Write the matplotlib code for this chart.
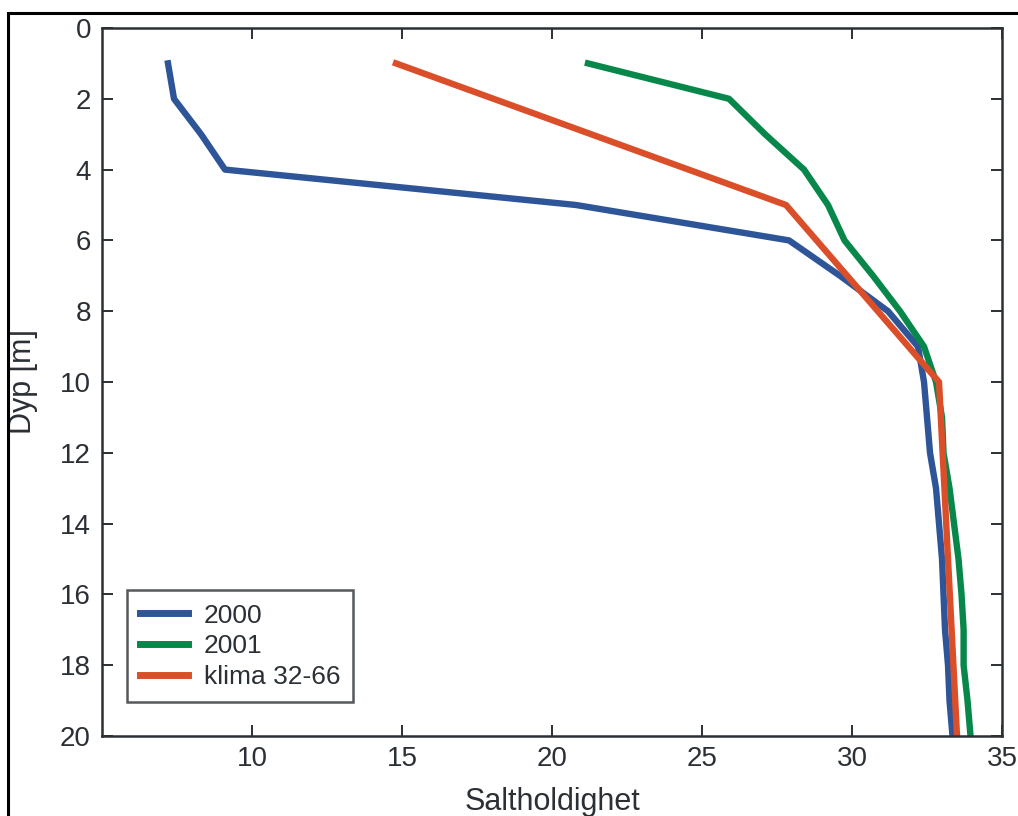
import numpy as np
from matplotlib import pyplot as plt
from matplotlib.patches import Rectangle

# Salinitetsprofiler
dyp = [1, 2, 3, 4, 5, 6, 7, 8, 9, 10, 11, 12, 13, 14, 15, 16, 17, 18, 19, 20]
salt_2000 = [7.2, 7.4, 8.3, 9.1, 20.8, 27.9, 29.6, 31.2, 32.2, 32.4, 32.5, 32.6,
             32.8, 32.9, 33.0, 33.05, 33.1, 33.2, 33.25, 33.35]
salt_2001 = [21.2, 25.9, 27.1, 28.4, 29.2, 29.75, 30.7, 31.6, 32.4, 32.8, 33.0, 33.05,
             33.25, 33.4, 33.55, 33.65, 33.72, 33.72, 33.85, 33.95]
dyp_klima = [1, 5, 10, 20]
salt_klima = [14.8, 27.8, 32.9, 33.5]

labels = ["2000", "2001", "klima 32-66"]
colors = ["#2e5597", "#07884a", "#da4f2a"]
x_ticks = [10, 15, 20, 25, 30, 35]
y_ticks = np.arange(0, 21, 2)

plt.rcParams["font.family"] = ["Liberation Sans", "DejaVu Sans"]
dark = "#2b3036"

fig = plt.figure(figsize=(10.18, 8.16), dpi=100)
ax = fig.add_axes([0.1002, 0.098, 0.8841, 0.8677])

# ramme rundt hele figuren
fig.patches.append(Rectangle((8 / 1018, -0.1), 1.2, 1 - 13 / 816 + 0.1,
                             transform=fig.transFigure, fill=False,
                             edgecolor="black", linewidth=2.2))

ax.plot(salt_2000, dyp, color=colors[0], linewidth=4.6, label=labels[0])
ax.plot(salt_2001, dyp, color=colors[1], linewidth=4.6, label=labels[1])
ax.plot(salt_klima, dyp_klima, color=colors[2], linewidth=4.6, label=labels[2])

ax.set_xlim(5, 35)
ax.set_ylim(20, 0)
ax.set_xticks(x_ticks)
ax.set_yticks(y_ticks)
ax.tick_params(direction="in", length=8, width=1.4, color=dark, labelcolor=dark,
               labelsize=20, top=True, right=True, pad=7)
ax.tick_params(axis="y", pad=8)
for sp in ax.spines.values():
    sp.set_color(dark)
    sp.set_linewidth(1.8)

ax.set_xlabel("Saltholdighet", fontsize=22, color=dark, labelpad=11)
ax.set_ylabel("Dyp [m]", fontsize=22, color=dark, labelpad=16)

leg = ax.legend(loc="lower left", bbox_to_anchor=(0.028, 0.048), borderaxespad=0,
                fontsize=19, fancybox=False, handlelength=1.8, handletextpad=0.6,
                labelspacing=0.25, borderpad=0.5)
leg.get_frame().set_edgecolor(dark)
leg.get_frame().set_linewidth(1.8)
for t in leg.get_texts():
    t.set_color(dark)
for h in leg.get_lines():
    h.set_linewidth(5)

fig.savefig("out.png", dpi=100)
